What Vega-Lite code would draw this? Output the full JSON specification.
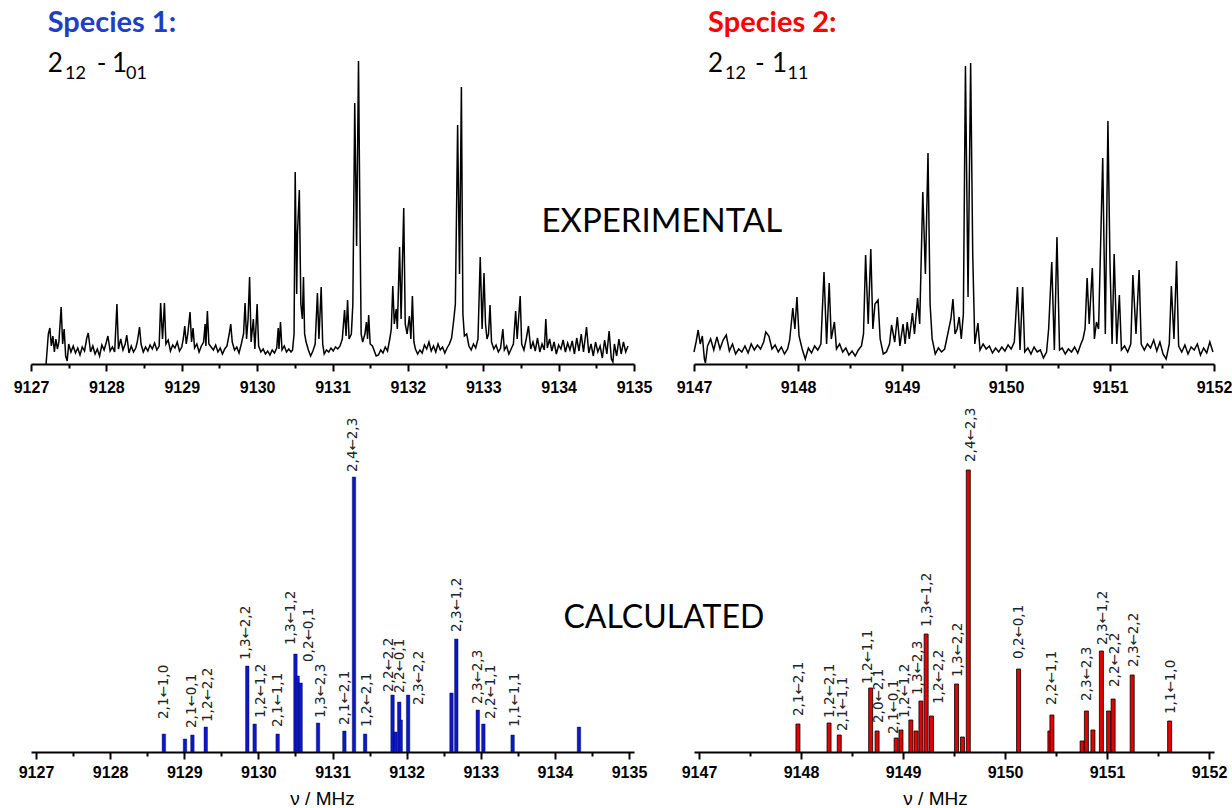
{
"$schema":"https://vega.github.io/schema/vega-lite/v6.json",
"padding":{"left":13,"top":4,"right":0,"bottom":0},
"config":{"view":{"stroke":null},"font":"Liberation Sans","concat":{"spacing":0},
"axis":{"domainColor":"black","domainWidth":2,"tickColor":"black","tickWidth":2,"labelFont":"Liberation Sans","labelFontWeight":"bold","labelFontSize":16,"labelColor":"black","grid":false,"labelFlush":false,"labelOverlap":false,"titleFont":"Liberation Sans","titleFontWeight":"normal","titleFontSize":19,"titleColor":"black"}},
"datasets":{
"exp1":[{"f":9127.2,"i":0},{"f":9127.21,"i":10},{"f":9127.23,"i":30},{"f":9127.25,"i":36},{"f":9127.27,"i":18},{"f":9127.29,"i":28},{"f":9127.31,"i":12},{"f":9127.33,"i":25},{"f":9127.35,"i":15},{"f":9127.37,"i":22},{"f":9127.4,"i":57},{"f":9127.42,"i":20},{"f":9127.44,"i":35},{"f":9127.46,"i":8},{"f":9127.48,"i":3},{"f":9127.5,"i":20},{"f":9127.53,"i":12},{"f":9127.56,"i":18},{"f":9127.59,"i":11},{"f":9127.62,"i":16},{"f":9127.65,"i":9},{"f":9127.68,"i":17},{"f":9127.71,"i":13},{"f":9127.74,"i":26},{"f":9127.76,"i":31},{"f":9127.79,"i":12},{"f":9127.82,"i":18},{"f":9127.85,"i":10},{"f":9127.88,"i":15},{"f":9127.91,"i":8},{"f":9127.94,"i":19},{"f":9127.97,"i":14},{"f":9128.0,"i":22},{"f":9128.02,"i":28},{"f":9128.05,"i":13},{"f":9128.08,"i":17},{"f":9128.11,"i":12},{"f":9128.14,"i":60},{"f":9128.16,"i":15},{"f":9128.19,"i":25},{"f":9128.22,"i":14},{"f":9128.25,"i":20},{"f":9128.27,"i":29},{"f":9128.3,"i":11},{"f":9128.33,"i":18},{"f":9128.36,"i":12},{"f":9128.39,"i":16},{"f":9128.41,"i":22},{"f":9128.44,"i":37},{"f":9128.46,"i":20},{"f":9128.49,"i":12},{"f":9128.52,"i":17},{"f":9128.55,"i":13},{"f":9128.58,"i":19},{"f":9128.61,"i":15},{"f":9128.64,"i":21},{"f":9128.67,"i":14},{"f":9128.7,"i":18},{"f":9128.72,"i":61},{"f":9128.745,"i":25},{"f":9128.77,"i":61},{"f":9128.79,"i":20},{"f":9128.82,"i":24},{"f":9128.85,"i":13},{"f":9128.88,"i":19},{"f":9128.91,"i":16},{"f":9128.94,"i":22},{"f":9128.97,"i":13},{"f":9129.0,"i":17},{"f":9129.02,"i":25},{"f":9129.04,"i":38},{"f":9129.06,"i":20},{"f":9129.08,"i":30},{"f":9129.11,"i":52},{"f":9129.13,"i":22},{"f":9129.15,"i":36},{"f":9129.17,"i":16},{"f":9129.2,"i":20},{"f":9129.23,"i":12},{"f":9129.26,"i":18},{"f":9129.29,"i":22},{"f":9129.31,"i":40},{"f":9129.32,"i":18},{"f":9129.34,"i":53},{"f":9129.36,"i":20},{"f":9129.39,"i":17},{"f":9129.42,"i":14},{"f":9129.45,"i":19},{"f":9129.48,"i":12},{"f":9129.51,"i":16},{"f":9129.54,"i":10},{"f":9129.57,"i":15},{"f":9129.6,"i":18},{"f":9129.63,"i":30},{"f":9129.65,"i":40},{"f":9129.67,"i":22},{"f":9129.7,"i":14},{"f":9129.73,"i":17},{"f":9129.76,"i":11},{"f":9129.79,"i":20},{"f":9129.82,"i":30},{"f":9129.84,"i":61},{"f":9129.86,"i":25},{"f":9129.88,"i":45},{"f":9129.9,"i":87},{"f":9129.92,"i":22},{"f":9129.95,"i":45},{"f":9129.97,"i":15},{"f":9130.0,"i":60},{"f":9130.02,"i":18},{"f":9130.05,"i":12},{"f":9130.08,"i":15},{"f":9130.11,"i":10},{"f":9130.14,"i":13},{"f":9130.17,"i":9},{"f":9130.2,"i":14},{"f":9130.23,"i":11},{"f":9130.26,"i":16},{"f":9130.28,"i":36},{"f":9130.29,"i":15},{"f":9130.31,"i":42},{"f":9130.33,"i":14},{"f":9130.36,"i":18},{"f":9130.39,"i":12},{"f":9130.42,"i":15},{"f":9130.45,"i":12},{"f":9130.47,"i":14},{"f":9130.49,"i":30},{"f":9130.505,"i":192},{"f":9130.525,"i":70},{"f":9130.535,"i":130},{"f":9130.56,"i":174},{"f":9130.58,"i":60},{"f":9130.6,"i":45},{"f":9130.615,"i":87},{"f":9130.63,"i":30},{"f":9130.65,"i":22},{"f":9130.68,"i":14},{"f":9130.71,"i":8},{"f":9130.74,"i":13},{"f":9130.77,"i":20},{"f":9130.8,"i":71},{"f":9130.82,"i":25},{"f":9130.85,"i":77},{"f":9130.87,"i":20},{"f":9130.89,"i":10},{"f":9130.92,"i":14},{"f":9130.95,"i":12},{"f":9130.98,"i":16},{"f":9131.01,"i":13},{"f":9131.04,"i":17},{"f":9131.07,"i":15},{"f":9131.1,"i":18},{"f":9131.13,"i":25},{"f":9131.16,"i":54},{"f":9131.18,"i":28},{"f":9131.2,"i":64},{"f":9131.22,"i":25},{"f":9131.25,"i":30},{"f":9131.27,"i":60},{"f":9131.295,"i":261},{"f":9131.32,"i":118},{"f":9131.345,"i":303},{"f":9131.36,"i":176},{"f":9131.38,"i":30},{"f":9131.4,"i":22},{"f":9131.43,"i":30},{"f":9131.45,"i":42},{"f":9131.465,"i":25},{"f":9131.48,"i":49},{"f":9131.5,"i":20},{"f":9131.53,"i":18},{"f":9131.56,"i":12},{"f":9131.58,"i":8},{"f":9131.61,"i":9},{"f":9131.64,"i":14},{"f":9131.67,"i":11},{"f":9131.7,"i":17},{"f":9131.73,"i":13},{"f":9131.76,"i":25},{"f":9131.78,"i":35},{"f":9131.8,"i":78},{"f":9131.82,"i":40},{"f":9131.845,"i":55},{"f":9131.86,"i":35},{"f":9131.89,"i":117},{"f":9131.91,"i":45},{"f":9131.945,"i":156},{"f":9131.965,"i":40},{"f":9131.99,"i":30},{"f":9132.02,"i":48},{"f":9132.04,"i":25},{"f":9132.06,"i":68},{"f":9132.08,"i":22},{"f":9132.1,"i":15},{"f":9132.13,"i":10},{"f":9132.16,"i":14},{"f":9132.19,"i":11},{"f":9132.22,"i":19},{"f":9132.25,"i":15},{"f":9132.28,"i":22},{"f":9132.31,"i":13},{"f":9132.34,"i":18},{"f":9132.37,"i":12},{"f":9132.4,"i":20},{"f":9132.43,"i":14},{"f":9132.46,"i":17},{"f":9132.49,"i":11},{"f":9132.52,"i":16},{"f":9132.55,"i":20},{"f":9132.58,"i":26},{"f":9132.61,"i":45},{"f":9132.63,"i":60},{"f":9132.66,"i":239},{"f":9132.685,"i":90},{"f":9132.71,"i":277},{"f":9132.73,"i":50},{"f":9132.75,"i":28},{"f":9132.78,"i":30},{"f":9132.81,"i":18},{"f":9132.84,"i":14},{"f":9132.87,"i":20},{"f":9132.9,"i":16},{"f":9132.93,"i":25},{"f":9132.96,"i":107},{"f":9132.985,"i":35},{"f":9133.01,"i":91},{"f":9133.03,"i":40},{"f":9133.05,"i":25},{"f":9133.07,"i":30},{"f":9133.09,"i":59},{"f":9133.11,"i":22},{"f":9133.14,"i":15},{"f":9133.17,"i":19},{"f":9133.2,"i":12},{"f":9133.23,"i":16},{"f":9133.26,"i":35},{"f":9133.28,"i":14},{"f":9133.31,"i":18},{"f":9133.34,"i":10},{"f":9133.37,"i":15},{"f":9133.4,"i":20},{"f":9133.43,"i":53},{"f":9133.45,"i":25},{"f":9133.49,"i":68},{"f":9133.51,"i":20},{"f":9133.54,"i":14},{"f":9133.57,"i":25},{"f":9133.6,"i":38},{"f":9133.63,"i":15},{"f":9133.66,"i":22},{"f":9133.69,"i":13},{"f":9133.72,"i":26},{"f":9133.75,"i":12},{"f":9133.78,"i":20},{"f":9133.81,"i":14},{"f":9133.83,"i":45},{"f":9133.85,"i":16},{"f":9133.88,"i":25},{"f":9133.91,"i":13},{"f":9133.94,"i":22},{"f":9133.97,"i":10},{"f":9134.0,"i":19},{"f":9134.03,"i":15},{"f":9134.06,"i":24},{"f":9134.09,"i":12},{"f":9134.12,"i":21},{"f":9134.15,"i":14},{"f":9134.18,"i":23},{"f":9134.21,"i":10},{"f":9134.24,"i":26},{"f":9134.27,"i":13},{"f":9134.3,"i":30},{"f":9134.33,"i":12},{"f":9134.37,"i":37},{"f":9134.4,"i":11},{"f":9134.43,"i":20},{"f":9134.46,"i":8},{"f":9134.49,"i":22},{"f":9134.52,"i":12},{"f":9134.55,"i":18},{"f":9134.58,"i":6},{"f":9134.61,"i":24},{"f":9134.64,"i":10},{"f":9134.67,"i":33},{"f":9134.7,"i":5},{"f":9134.72,"i":2},{"f":9134.74,"i":20},{"f":9134.77,"i":8},{"f":9134.8,"i":25},{"f":9134.83,"i":10},{"f":9134.86,"i":22},{"f":9134.89,"i":12},{"f":9134.92,"i":18}],
"exp2":[{"f":9147.0,"i":12},{"f":9147.02,"i":22},{"f":9147.04,"i":34},{"f":9147.06,"i":20},{"f":9147.08,"i":28},{"f":9147.1,"i":5},{"f":9147.11,"i":1},{"f":9147.13,"i":18},{"f":9147.16,"i":25},{"f":9147.19,"i":14},{"f":9147.22,"i":27},{"f":9147.25,"i":15},{"f":9147.28,"i":24},{"f":9147.31,"i":29},{"f":9147.34,"i":13},{"f":9147.37,"i":20},{"f":9147.4,"i":10},{"f":9147.43,"i":15},{"f":9147.46,"i":12},{"f":9147.49,"i":18},{"f":9147.52,"i":11},{"f":9147.55,"i":20},{"f":9147.58,"i":14},{"f":9147.61,"i":19},{"f":9147.64,"i":15},{"f":9147.67,"i":22},{"f":9147.69,"i":32},{"f":9147.72,"i":28},{"f":9147.75,"i":15},{"f":9147.78,"i":19},{"f":9147.81,"i":12},{"f":9147.84,"i":17},{"f":9147.87,"i":10},{"f":9147.9,"i":15},{"f":9147.92,"i":24},{"f":9147.95,"i":56},{"f":9147.97,"i":35},{"f":9147.99,"i":67},{"f":9148.01,"i":28},{"f":9148.04,"i":15},{"f":9148.07,"i":5},{"f":9148.1,"i":16},{"f":9148.13,"i":11},{"f":9148.16,"i":18},{"f":9148.19,"i":14},{"f":9148.22,"i":20},{"f":9148.25,"i":92},{"f":9148.275,"i":20},{"f":9148.3,"i":81},{"f":9148.32,"i":25},{"f":9148.35,"i":42},{"f":9148.37,"i":15},{"f":9148.4,"i":20},{"f":9148.43,"i":12},{"f":9148.46,"i":16},{"f":9148.49,"i":9},{"f":9148.52,"i":13},{"f":9148.55,"i":8},{"f":9148.58,"i":14},{"f":9148.61,"i":18},{"f":9148.63,"i":30},{"f":9148.65,"i":109},{"f":9148.675,"i":40},{"f":9148.7,"i":115},{"f":9148.72,"i":35},{"f":9148.74,"i":60},{"f":9148.77,"i":64},{"f":9148.79,"i":25},{"f":9148.82,"i":10},{"f":9148.85,"i":12},{"f":9148.88,"i":20},{"f":9148.9,"i":39},{"f":9148.93,"i":22},{"f":9148.955,"i":47},{"f":9148.98,"i":18},{"f":9149.01,"i":40},{"f":9149.03,"i":20},{"f":9149.05,"i":42},{"f":9149.07,"i":25},{"f":9149.1,"i":51},{"f":9149.12,"i":30},{"f":9149.15,"i":66},{"f":9149.17,"i":40},{"f":9149.2,"i":172},{"f":9149.225,"i":90},{"f":9149.25,"i":211},{"f":9149.27,"i":60},{"f":9149.29,"i":25},{"f":9149.32,"i":10},{"f":9149.35,"i":16},{"f":9149.38,"i":12},{"f":9149.41,"i":15},{"f":9149.44,"i":30},{"f":9149.47,"i":45},{"f":9149.49,"i":65},{"f":9149.51,"i":30},{"f":9149.53,"i":35},{"f":9149.55,"i":47},{"f":9149.57,"i":25},{"f":9149.59,"i":50},{"f":9149.61,"i":298},{"f":9149.635,"i":67},{"f":9149.66,"i":301},{"f":9149.68,"i":110},{"f":9149.7,"i":20},{"f":9149.73,"i":41},{"f":9149.75,"i":14},{"f":9149.78,"i":20},{"f":9149.81,"i":15},{"f":9149.84,"i":18},{"f":9149.87,"i":11},{"f":9149.9,"i":16},{"f":9149.93,"i":12},{"f":9149.96,"i":17},{"f":9149.99,"i":13},{"f":9150.02,"i":19},{"f":9150.05,"i":15},{"f":9150.08,"i":22},{"f":9150.11,"i":77},{"f":9150.135,"i":14},{"f":9150.16,"i":77},{"f":9150.18,"i":12},{"f":9150.21,"i":16},{"f":9150.24,"i":10},{"f":9150.27,"i":17},{"f":9150.3,"i":12},{"f":9150.33,"i":14},{"f":9150.36,"i":6},{"f":9150.39,"i":12},{"f":9150.41,"i":35},{"f":9150.44,"i":102},{"f":9150.465,"i":14},{"f":9150.49,"i":127},{"f":9150.515,"i":14},{"f":9150.54,"i":16},{"f":9150.57,"i":10},{"f":9150.6,"i":15},{"f":9150.63,"i":12},{"f":9150.66,"i":17},{"f":9150.69,"i":11},{"f":9150.72,"i":20},{"f":9150.74,"i":25},{"f":9150.76,"i":35},{"f":9150.78,"i":86},{"f":9150.8,"i":40},{"f":9150.83,"i":96},{"f":9150.85,"i":25},{"f":9150.87,"i":42},{"f":9150.89,"i":35},{"f":9150.93,"i":206},{"f":9150.955,"i":30},{"f":9150.98,"i":243},{"f":9151.0,"i":100},{"f":9151.02,"i":20},{"f":9151.04,"i":110},{"f":9151.065,"i":20},{"f":9151.09,"i":69},{"f":9151.11,"i":14},{"f":9151.14,"i":18},{"f":9151.17,"i":12},{"f":9151.2,"i":20},{"f":9151.22,"i":89},{"f":9151.25,"i":30},{"f":9151.28,"i":94},{"f":9151.3,"i":20},{"f":9151.33,"i":14},{"f":9151.36,"i":20},{"f":9151.39,"i":16},{"f":9151.42,"i":24},{"f":9151.45,"i":13},{"f":9151.48,"i":22},{"f":9151.51,"i":10},{"f":9151.54,"i":5},{"f":9151.57,"i":20},{"f":9151.59,"i":78},{"f":9151.615,"i":25},{"f":9151.64,"i":103},{"f":9151.66,"i":18},{"f":9151.69,"i":12},{"f":9151.72,"i":19},{"f":9151.75,"i":10},{"f":9151.78,"i":17},{"f":9151.81,"i":14},{"f":9151.84,"i":20},{"f":9151.87,"i":9},{"f":9151.9,"i":16},{"f":9151.93,"i":11},{"f":9151.96,"i":22},{"f":9151.99,"i":12}],
"bars1":[{"f":9128.725,"h":18},{"f":9129.01,"h":13},{"f":9129.11,"h":17},{"f":9129.29,"h":25},{"f":9129.85,"h":86},{"f":9129.95,"h":28},{"f":9130.26,"h":18},{"f":9130.5,"h":98},{"f":9130.53,"h":76},{"f":9130.57,"h":69},{"f":9130.805,"h":29},{"f":9131.16,"h":21},{"f":9131.29,"h":275},{"f":9131.44,"h":18},{"f":9131.81,"h":57},{"f":9131.85,"h":20},{"f":9131.9,"h":50},{"f":9131.92,"h":32},{"f":9132.02,"h":57},{"f":9132.605,"h":59},{"f":9132.67,"h":113},{"f":9132.96,"h":42},{"f":9133.035,"h":28},{"f":9133.43,"h":17},{"f":9134.325,"h":25}],
"labs1":[{"f":9128.725,"h":33,"t":"2,1←1,0"},{"f":9129.1,"h":24,"t":"2,1←0,1"},{"f":9129.316,"h":30,"t":"1,2←2,2"},{"f":9129.827,"h":92,"t":"1,3←2,2"},{"f":9130.036,"h":34,"t":"1,2←1,2"},{"f":9130.259,"h":25,"t":"2,1←1,1"},{"f":9130.436,"h":107,"t":"1,3←1,2"},{"f":9130.685,"h":90,"t":"0,2←0,1"},{"f":9130.845,"h":34,"t":"1,3←2,3"},{"f":9131.17,"h":27,"t":"2,1←2,1"},{"f":9131.467,"h":25,"t":"1,2←2,1"},{"f":9131.28,"h":280,"t":"2,4←2,3"},{"f":9131.76,"h":60,"t":"2,2←2,2"},{"f":9131.91,"h":59,"t":"2,2←0,1"},{"f":9132.17,"h":47,"t":"2,3←2,2"},{"f":9132.68,"h":120,"t":"2,3←1,2"},{"f":9132.96,"h":48,"t":"2,3←2,3"},{"f":9133.14,"h":33,"t":"2,2←1,1"},{"f":9133.46,"h":25,"t":"1,1←1,1"}],
"bars2":[{"f":9147.97,"h":28},{"f":9148.275,"h":29},{"f":9148.375,"h":17},{"f":9148.683,"h":64},{"f":9148.746,"h":21},{"f":9148.933,"h":14},{"f":9148.98,"h":22},{"f":9149.077,"h":32},{"f":9149.128,"h":21},{"f":9149.176,"h":51},{"f":9149.227,"h":118},{"f":9149.279,"h":36},{"f":9149.525,"h":68},{"f":9149.583,"h":15},{"f":9149.64,"h":282},{"f":9150.133,"h":83},{"f":9150.44,"h":21},{"f":9150.46,"h":37},{"f":9150.756,"h":11},{"f":9150.798,"h":41},{"f":9150.862,"h":22},{"f":9150.945,"h":101},{"f":9151.016,"h":41},{"f":9151.06,"h":53},{"f":9151.247,"h":77},{"f":9151.614,"h":31}],
"labs2":[{"f":9147.98,"h":36,"t":"2,1←2,1"},{"f":9148.28,"h":34,"t":"1,2←2,1"},{"f":9148.415,"h":21,"t":"2,1←1,1"},{"f":9148.657,"h":68,"t":"1,2←1,1"},{"f":9148.765,"h":29,"t":"2,0←2,1"},{"f":9148.913,"h":18,"t":"2,1←0,1"},{"f":9149.015,"h":34,"t":"1,2←1,2"},{"f":9149.144,"h":57,"t":"1,3←2,3"},{"f":9149.24,"h":125,"t":"1,3←1,2"},{"f":9149.352,"h":48,"t":"1,2←2,2"},{"f":9149.535,"h":75,"t":"1,3←2,2"},{"f":9149.67,"h":290,"t":"2,4←2,3"},{"f":9150.14,"h":93,"t":"0,2←0,1"},{"f":9150.46,"h":47,"t":"2,2←1,1"},{"f":9150.8,"h":51,"t":"2,3←2,3"},{"f":9150.96,"h":107,"t":"2,3←1,2"},{"f":9151.08,"h":65,"t":"2,2←2,2"},{"f":9151.263,"h":85,"t":"2,3←2,2"},{"f":9151.63,"h":38,"t":"1,1←1,0"}]
},
"columns":2,
"align":"each",
"bounds":"flush",
"spacing":{"row":40,"column":60},
"concat":[
{"width":603,"height":360,"resolve":{"axis":{"x":"independent"}},
"layer":[
{"data":{"name":"exp1"},"mark":{"type":"line","color":"black","strokeWidth":1.5},
"encoding":{"x":{"field":"f","type":"quantitative","scale":{"domain":[9127,9135],"nice":false,"zero":false},"axis":{"orient":"bottom","values":[9127,9128,9129,9130,9131,9132,9133,9134,9135],"format":"d","tickSize":7,"labelPadding":8,"title":null}},
"y":{"field":"i","type":"quantitative","scale":{"domain":[0,360],"nice":false},"axis":null}}},
{"data":{"values":[{}]},"mark":{"type":"text","text":"Species 1:","font":"Lato","fontWeight":"bold","fontSize":29,"color":"#1f3fbf","align":"left","baseline":"alphabetic"},
"encoding":{"x":{"datum":9127.221,"type":"quantitative","scale":{"domain":[9127,9135],"nice":false,"zero":false},"axis":{"orient":"bottom","values":[9127.5,9128.5,9129.5,9130.5,9131.5,9132.5,9133.5,9134.5],"labels":false,"domain":false,"tickSize":4,"title":null}},
"y":{"datum":332,"type":"quantitative","scale":{"domain":[0,360],"nice":false},"axis":null}}},
{"data":{"values":[{}]},"mark":{"type":"text","text":"2","font":"Lato","fontSize":26,"color":"black","align":"left","baseline":"alphabetic"},
"encoding":{"x":{"datum":9127.221,"type":"quantitative","axis":null},"y":{"datum":292,"type":"quantitative","axis":null}}},
{"data":{"values":[{}]},"mark":{"type":"text","text":"12","font":"Lato","fontSize":18,"color":"black","align":"left","baseline":"alphabetic"},
"encoding":{"x":{"datum":9127.451,"type":"quantitative","axis":null},"y":{"datum":285,"type":"quantitative","axis":null}}},
{"data":{"values":[{}]},"mark":{"type":"text","text":"-","font":"Lato","fontSize":26,"color":"black","align":"left","baseline":"alphabetic"},
"encoding":{"x":{"datum":9127.871,"type":"quantitative","axis":null},"y":{"datum":292,"type":"quantitative","axis":null}}},
{"data":{"values":[{}]},"mark":{"type":"text","text":"1","font":"Lato","fontSize":26,"color":"black","align":"left","baseline":"alphabetic"},
"encoding":{"x":{"datum":9128.074,"type":"quantitative","axis":null},"y":{"datum":292,"type":"quantitative","axis":null}}},
{"data":{"values":[{}]},"mark":{"type":"text","text":"01","font":"Lato","fontSize":18,"color":"black","align":"left","baseline":"alphabetic"},
"encoding":{"x":{"datum":9128.26,"type":"quantitative","axis":null},"y":{"datum":285,"type":"quantitative","axis":null}}},
{"data":{"values":[{}]},"mark":{"type":"text","text":"EXPERIMENTAL","font":"Lato","fontSize":33,"color":"black","align":"center","baseline":"middle"},
"encoding":{"x":{"datum":9135.369,"type":"quantitative","axis":null},"y":{"datum":142,"type":"quantitative","axis":null}}}
]},
{"width":520,"height":360,"resolve":{"axis":{"x":"independent"}},
"layer":[
{"data":{"name":"exp2"},"mark":{"type":"line","color":"black","strokeWidth":1.5},
"encoding":{"x":{"field":"f","type":"quantitative","scale":{"domain":[9147,9152],"nice":false,"zero":false},"axis":{"orient":"bottom","values":[9147,9148,9149,9150,9151,9152],"format":"d","tickSize":7,"labelPadding":8,"title":null}},
"y":{"field":"i","type":"quantitative","scale":{"domain":[0,360],"nice":false},"axis":null}}},
{"data":{"values":[{}]},"mark":{"type":"text","text":"Species 2:","font":"Lato","fontWeight":"bold","fontSize":29,"color":"#ff0000","align":"left","baseline":"alphabetic"},
"encoding":{"x":{"datum":9147.135,"type":"quantitative","scale":{"domain":[9147,9152],"nice":false,"zero":false},"axis":{"orient":"bottom","values":[9147.5,9148.5,9149.5,9150.5,9151.5],"labels":false,"domain":false,"tickSize":4,"title":null}},
"y":{"datum":332,"type":"quantitative","scale":{"domain":[0,360],"nice":false},"axis":null}}},
{"data":{"values":[{}]},"mark":{"type":"text","text":"2","font":"Lato","fontSize":26,"color":"black","align":"left","baseline":"alphabetic"},
"encoding":{"x":{"datum":9147.135,"type":"quantitative","axis":null},"y":{"datum":292,"type":"quantitative","axis":null}}},
{"data":{"values":[{}]},"mark":{"type":"text","text":"12","font":"Lato","fontSize":18,"color":"black","align":"left","baseline":"alphabetic"},
"encoding":{"x":{"datum":9147.298,"type":"quantitative","axis":null},"y":{"datum":285,"type":"quantitative","axis":null}}},
{"data":{"values":[{}]},"mark":{"type":"text","text":"-","font":"Lato","fontSize":26,"color":"black","align":"left","baseline":"alphabetic"},
"encoding":{"x":{"datum":9147.587,"type":"quantitative","axis":null},"y":{"datum":292,"type":"quantitative","axis":null}}},
{"data":{"values":[{}]},"mark":{"type":"text","text":"1","font":"Lato","fontSize":26,"color":"black","align":"left","baseline":"alphabetic"},
"encoding":{"x":{"datum":9147.75,"type":"quantitative","axis":null},"y":{"datum":292,"type":"quantitative","axis":null}}},
{"data":{"values":[{}]},"mark":{"type":"text","text":"11","font":"Lato","fontSize":18,"color":"black","align":"left","baseline":"alphabetic"},
"encoding":{"x":{"datum":9147.9,"type":"quantitative","axis":null},"y":{"datum":285,"type":"quantitative","axis":null}}}
]},
{"width":603,"height":348,"resolve":{"axis":{"x":"independent"}},
"layer":[
{"data":{"name":"bars1"},"mark":{"type":"bar","orient":"vertical","size":3.5,"color":"#0b18c8","stroke":"#000040","strokeWidth":0.4},
"encoding":{"x":{"field":"f","type":"quantitative","scale":{"domain":[9127,9135],"nice":false,"zero":false},"axis":{"orient":"bottom","values":[9127,9128,9129,9130,9131,9132,9133,9134,9135],"format":"d","tickSize":7,"labelPadding":5,"title":"ν / MHz","titlePadding":9,"titleX":291,"titleAlign":"center"}},
"y":{"field":"h","type":"quantitative","scale":{"domain":[0,348],"nice":false},"axis":null}}},
{"data":{"name":"labs1"},"mark":{"type":"text","angle":270,"align":"left","baseline":"middle","font":"DejaVu Sans","fontSize":13.5,"color":"#222222"},
"encoding":{"x":{"field":"f","type":"quantitative","scale":{"domain":[9127,9135],"nice":false,"zero":false},"axis":{"orient":"bottom","values":[9127.5,9128.5,9129.5,9130.5,9131.5,9132.5,9133.5,9134.5],"labels":false,"domain":false,"tickSize":4,"title":null}},
"y":{"field":"h","type":"quantitative","scale":{"domain":[0,348],"nice":false},"axis":null},"text":{"field":"t"}}},
{"data":{"values":[{}]},"mark":{"type":"text","text":"CALCULATED","font":"Lato","fontSize":32,"color":"black","align":"center","baseline":"middle"},
"encoding":{"x":{"datum":9135.47,"type":"quantitative","axis":null},"y":{"datum":134,"type":"quantitative","axis":null}}}
]},
{"width":520,"height":348,"resolve":{"axis":{"x":"independent"}},
"layer":[
{"data":{"name":"bars2"},"mark":{"type":"bar","orient":"vertical","size":4,"color":"#e60000","stroke":"#000000","strokeWidth":0.8},
"encoding":{"x":{"field":"f","type":"quantitative","scale":{"domain":[9147,9152],"nice":false,"zero":false},"axis":{"orient":"bottom","values":[9147,9148,9149,9150,9151,9152],"format":"d","tickSize":7,"labelPadding":5,"title":"ν / MHz","titlePadding":9,"titleX":241,"titleAlign":"center"}},
"y":{"field":"h","type":"quantitative","scale":{"domain":[0,348],"nice":false},"axis":null}}},
{"data":{"name":"labs2"},"mark":{"type":"text","angle":270,"align":"left","baseline":"middle","font":"DejaVu Sans","fontSize":13.5,"color":"#222222"},
"encoding":{"x":{"field":"f","type":"quantitative","scale":{"domain":[9147,9152],"nice":false,"zero":false},"axis":{"orient":"bottom","values":[9147.5,9148.5,9149.5,9150.5,9151.5],"labels":false,"domain":false,"tickSize":4,"title":null}},
"y":{"field":"h","type":"quantitative","scale":{"domain":[0,348],"nice":false},"axis":null},"text":{"field":"t"}}}
]}
]
}
